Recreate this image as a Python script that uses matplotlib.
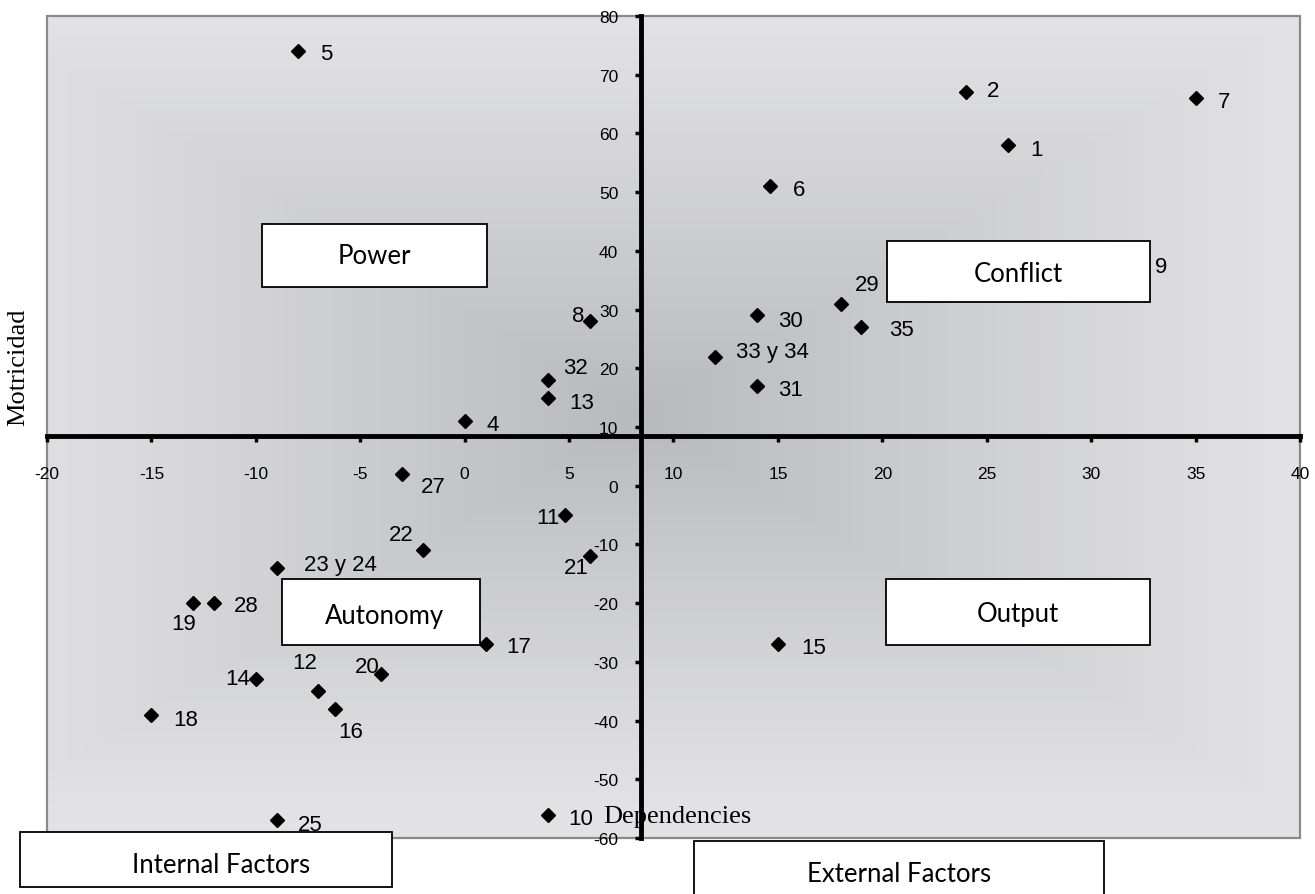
import numpy as np
import matplotlib
matplotlib.use("Agg")
import matplotlib.pyplot as plt
from matplotlib.patches import Rectangle

plt.rcParams['font.family'] = ['Liberation Sans', 'DejaVu Sans']
plt.rcParams['axes.unicode_minus'] = False

# Variables (dependency, motricity)
labels = ['1', '2', '4', '5', '6', '7', '8', '9', '10', '11', '12', '13', '14',
          '15', '16', '17', '18', '19', '20', '21', '22', '23 y 24', '25', '27',
          '28', '29', '30', '31', '32', '33 y 34', '35']
dependency = [26, 24, 0, -8, 14.6, 35, 6, 32, 4, 4.8, -7, 4, -10,
              15, -6.2, 1, -15, -13, -4, 6, -2, -9, -9, -3,
              -12, 18, 14, 14, 4, 12, 19]
motricity = [58, 67, 11, 74, 51, 66, 28, 37, -56, -5, -35, 15, -33,
             -27, -38, -27, -39, -20, -32, -12, -11, -14, -57, 2,
             -20, 31, 29, 17, 18, 22, 27]

# where the two axes cross
cross = 8.45

# label placement, pixels from the marker (dx, dy down, alignment)
label_pos = {
    '1': (23, 2, 'left'), '2': (21, -4, 'left'), '4': (22, 1, 'left'),
    '5': (22, 0, 'left'), '6': (23, 1, 'left'), '7': (22, 1, 'left'),
    '8': (-6, -8, 'right'), '9': (22, -4, 'left'), '10': (20, 1, 'left'),
    '11': (-5, 0, 'right'), '12': (-1, -31, 'right'), '13': (21, 2, 'left'),
    '14': (-6, -3, 'right'), '15': (23, 1, 'left'), '16': (3, 20, 'left'),
    '17': (21, 0, 'left'), '18': (22, 2, 'left'), '19': (3, 18, 'right'),
    '20': (-2, -10, 'right'), '21': (-1, 9, 'right'), '22': (-9, -18, 'right'),
    '23 y 24': (27, -6, 'left'), '25': (21, 2, 'left'), '27': (19, 10, 'left'),
    '28': (20, 0, 'left'), '29': (14, -22, 'left'), '30': (21, 3, 'left'),
    '31': (21, 1, 'left'), '32': (15, -15, 'left'), '33 y 34': (21, -8, 'left'),
    '35': (28, 0, 'left'),
}

W, H = 1315, 895
fig = plt.figure(figsize=(W / 100, H / 100), dpi=100)
ax = fig.add_axes([47 / W, 1 - 839 / H, 1253 / W, 822 / H])

# gray gradient, darker at the centre
gx, gy = np.meshgrid(np.linspace(0, 1, 400), np.linspace(0, 1, 400))
cx, cy = 0.473, 0.515
t = np.maximum(np.abs(gx - cx) / (1 - cx), np.abs(gy - cy) / (1 - cy))
t = np.clip(t, 0, 1) ** 0.9
c0 = np.array([0.72, 0.725, 0.74])
c1 = np.array([0.89, 0.89, 0.898])
img = c0 + (c1 - c0) * t[..., None]
ax.imshow(img, extent=(0, 1, 0, 1), transform=ax.transAxes, aspect='auto',
          origin='lower', zorder=0)
ax.add_patch(Rectangle((0, 0), 1, 1, transform=ax.transAxes, fill=False,
                       edgecolor='#8a8a8a', lw=1.6, zorder=1, clip_on=False))

ax.set_xlim(-20, 40)
ax.set_ylim(-60, 80)
ax.spines['left'].set_position(('data', cross))
ax.spines['bottom'].set_position(('data', cross))
for s in ['left', 'bottom']:
    ax.spines[s].set_linewidth(3.5)
    ax.spines[s].set_color('black')
    ax.spines[s].set_zorder(2.5)
ax.spines['top'].set_visible(False)
ax.spines['right'].set_visible(False)

ax.set_xticks(range(-20, 41, 5))
ax.set_yticks(range(-60, 81, 10))
ax.tick_params(axis='x', direction='out', length=4.5, width=2.5, pad=17, labelsize=12.5)
ax.tick_params(axis='y', direction='out', length=4.5, width=2.5, pad=12, labelsize=12.5)

ax.plot(dependency, motricity, 'D', color='black', ms=7.5, zorder=3, clip_on=False)
for lab, x, y in zip(labels, dependency, motricity):
    dx, dy, ha = label_pos[lab]
    ax.annotate(lab, (x, y), xytext=(dx, -(dy + 8)), textcoords='offset pixels',
                ha=ha, va='baseline', fontsize=16, zorder=3)

ax.annotate('Dependencies', xy=(603, H - 823), xycoords='figure pixels',
            ha='left', va='baseline', fontsize=19, family='Liberation Serif', zorder=1)
fig.text(18 / W, 1 - 367 / H, 'Motricidad', rotation=90, ha='center', va='center',
         fontsize=19, family='Liberation Serif')

# quadrant and factor boxes (pixel positions: left, top, right, bottom, text x, baseline)
boxes = [
    ('Power', 262, 225, 487, 288, 374, 264),
    ('Conflict', 887, 242, 1150, 303, 1018, 282),
    ('Autonomy', 282, 580, 480, 646, 384, 624),
    ('Output', 886, 580, 1150, 646, 1018, 622),
    ('Internal Factors', 20, 833, 392, 888, 221, 873),
    ('External Factors', 694, 842, 1104, 905, 899, 882),
]
for name, x0, y0, x1, y1, tx, ty in boxes:
    fig.add_artist(Rectangle((x0 / W, 1 - y1 / H), (x1 - x0) / W, (y1 - y0) / H,
                             transform=fig.transFigure, facecolor='white',
                             edgecolor='black', lw=1.3, zorder=5))
    fig.text(tx / W, 1 - ty / H, name, ha='center', va='baseline', fontsize=18.5,
             family='Lato', zorder=6)

fig.savefig('out.png', dpi=100)
